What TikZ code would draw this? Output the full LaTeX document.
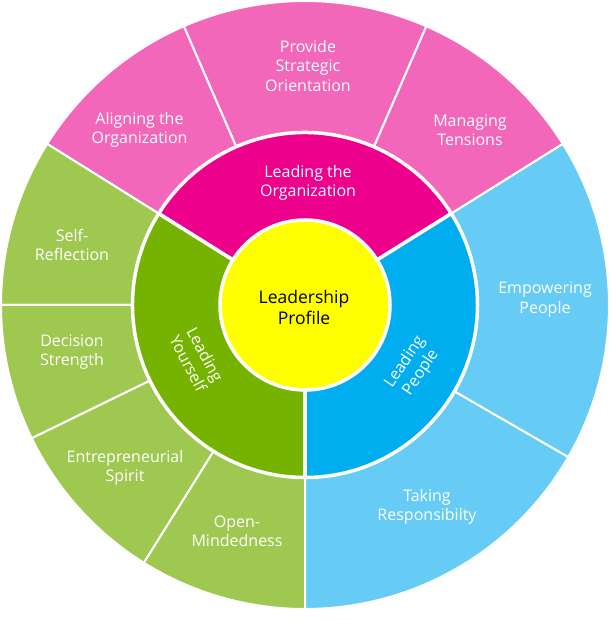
\documentclass[tikz,border=0pt]{standalone}
\usepackage{fontspec}
\setmainfont{Open Sans}
\definecolor{magO}{RGB}{242,103,185}
\definecolor{magI}{RGB}{236,0,140}
\definecolor{grnO}{RGB}{158,200,80}
\definecolor{grnI}{RGB}{118,178,0}
\definecolor{bluO}{RGB}{102,204,245}
\definecolor{bluI}{RGB}{0,174,239}
\definecolor{yel}{RGB}{255,255,0}
\tikzset{
  outerseg/.style={draw=white, line width=2pt},
  innerseg/.style={draw=white, line width=3.5pt},
  lbl/.style={inner sep=0pt, align=center, text=white, font=\fontsize{16}{19.2}\selectfont},
  corelbl/.style={inner sep=0pt, align=center, text=black, font=\fontsize{17.5}{21.6}\selectfont}
}
\newcommand{\pieslice}[5]{% style, colour, a1, a2, r
  \path[#1, fill=#2] (0,0) -- (#3:#5) arc[start angle=#3, end angle=#4, radius=#5] -- cycle;}
\begin{document}
\begin{tikzpicture}[x=1pt,y=1pt]
\useasboundingbox (0,0) rectangle (610,620);
\begin{scope}[shift={(305,315)}]
  % outer ring
  \pieslice{outerseg}{magO}{32}{66.5}{304}
  \pieslice{outerseg}{magO}{66.5}{113.5}{304}
  \pieslice{outerseg}{magO}{113.5}{148}{304}
  \pieslice{outerseg}{grnO}{148}{180}{304}
  \pieslice{outerseg}{grnO}{180}{206}{304}
  \pieslice{outerseg}{grnO}{206}{238}{304}
  \pieslice{outerseg}{grnO}{238}{270}{304}
  \pieslice{outerseg}{bluO}{270}{330}{304}
  \pieslice{outerseg}{bluO}{330}{392}{304}
  % middle ring
  \pieslice{innerseg}{magI}{32}{148}{172.5}
  \pieslice{innerseg}{grnI}{148}{270}{172.5}
  \pieslice{innerseg}{bluI}{270}{392}{172.5}
  % core
  \path[innerseg, fill=yel] (0,0) circle[radius=85];
\end{scope}
\node[lbl] (prov) at (308,554) {Provide\\Strategic\\Orientation};
\node[lbl] (align) at (139.5,490) {Aligning the\\Organization};
\node[lbl] (manag) at (470,490) {Managing\\Tensions};
\node[lbl] (leadorg) at (308,437) {Leading the\\Organization};
\node[lbl] (self) at (72,375) {Self-\\Reflection};
\node[lbl] (dec) at (72,268) {Decision\\Strength};
\node[lbl] (entre) at (125,152) {Entrepreneurial\\Spirit};
\node[lbl] (open) at (237,89) {Open-\\Mindedness};
\node[lbl] (emp) at (545,320.5) {Empowering\\People};
\node[lbl] (taking) at (427,113) {Taking\\Responsibilty};
\node[lbl, rotate=-62] (ly) at (196.7,261) {Leading\\Yourself};
\node[lbl, rotate=56] (lpeople) at (413,252.5) {Leading\\People};
\node[corelbl] (core) at (304,312.5) {Leadership\\Profile};
\end{tikzpicture}
\end{document}
